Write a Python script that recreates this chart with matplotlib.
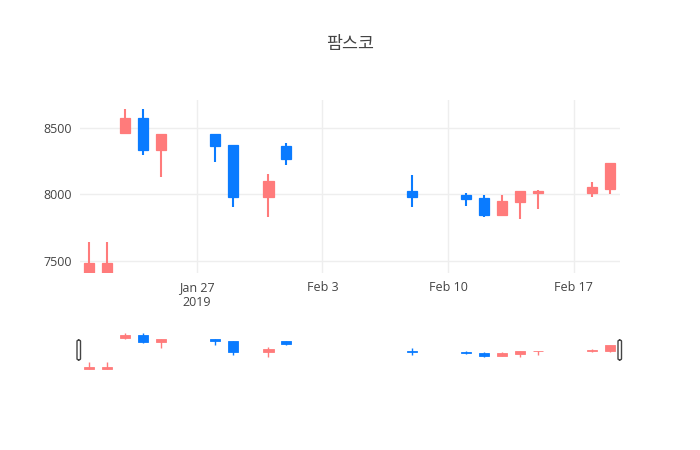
import datetime
import matplotlib
matplotlib.use('Agg')
import matplotlib.pyplot as plt
import matplotlib.dates as mdates
from matplotlib.patches import FancyBboxPatch


dates = ['2019-01-21', '2019-01-22', '2019-01-23', '2019-01-24', '2019-01-25',
         '2019-01-28', '2019-01-29', '2019-01-31', '2019-02-01', '2019-02-08',
         '2019-02-11', '2019-02-12', '2019-02-13', '2019-02-14', '2019-02-15',
         '2019-02-18', '2019-02-19']
opens = [7400, 7400, 8460, 8570, 8330, 8450, 8370, 7980, 8360, 8020,
         7990, 7970, 7840, 7940, 8010, 8010, 8040]
highs = [7640, 7640, 8640, 8640, 8450, 8450, 8370, 8150, 8380, 8140,
         8010, 7990, 7990, 8020, 8030, 8090, 8230]
lows = [7400, 7400, 8450, 8290, 8130, 8240, 7900, 7830, 8220, 7900,
        7910, 7830, 7840, 7810, 7890, 7980, 8000]
closes = [7480, 7480, 8570, 8330, 8450, 8360, 7980, 8100, 8260, 7980,
          7960, 7840, 7950, 8020, 8020, 8050, 8230]

title = '팜스코'
up_color = '#FF7B7B'
down_color = '#0A7BFF'

x = [mdates.date2num(datetime.datetime.strptime(d, '%Y-%m-%d')) for d in dates]
x0 = mdates.date2num(datetime.datetime(2019, 1, 20, 12))
x1 = mdates.date2num(datetime.datetime(2019, 2, 19, 14))
ylo, yhi = 7406, 8707


def draw_candles(ax, width, lw):
  for xi, o, h, l, c in zip(x, opens, highs, lows, closes):
    col = up_color if c >= o else down_color
    ax.vlines(xi, l, h, color=col, linewidth=lw, zorder=2)
    ax.bar(xi, abs(c - o), bottom=min(o, c), width=width, color=col,
           edgecolor=col, linewidth=lw * 0.6, zorder=3)


fig = plt.figure(figsize=(7, 4.5), dpi=100)
fig.patch.set_facecolor('white')

ax = fig.add_axes([80 / 700, 1 - 273 / 450, 540 / 700, 173 / 450])
draw_candles(ax, 0.56, 1.5)
ax.set_xlim(x0, x1)
ax.set_ylim(ylo, yhi)
ax.set_yticks([7500, 8000, 8500])
ticks = [datetime.datetime(2019, 1, 27), datetime.datetime(2019, 2, 3),
         datetime.datetime(2019, 2, 10), datetime.datetime(2019, 2, 17)]
ax.set_xticks([mdates.date2num(t) for t in ticks])
ax.set_xticklabels(['Jan 27\n2019', 'Feb 3', 'Feb 10', 'Feb 17'])
ax.grid(True, color='#eeeeee', linewidth=1, zorder=0)
ax.set_axisbelow(True)
for s in ax.spines.values():
  s.set_visible(False)
ax.tick_params(length=0, colors='#444444', labelsize=9, pad=6)
for lab in ax.get_xticklabels() + ax.get_yticklabels():
  lab.set_fontfamily(['Open Sans', 'DejaVu Sans'])

fig.text(350 / 700, 1 - 44 / 450, title, ha='center', va='center',
         fontsize=12.5, color='#444444',
         family=['Noto Sans CJK KR', 'DejaVu Sans'])

# range slider
sl = fig.add_axes([80 / 700, 1 - 371 / 450, 540 / 700, 40 / 450])
draw_candles(sl, 0.56, 1.0)
sl.set_xlim(x0, x1)
sl.set_ylim(ylo - 60, yhi)
sl.set_xticks([])
sl.set_yticks([])
for s in sl.spines.values():
  s.set_visible(False)

for hx in [77, 618]:
  handle = FancyBboxPatch((hx / 700, 1 - 360 / 450), 3.5 / 700, 20 / 450,
                          boxstyle='round,pad=0,rounding_size=0.003',
                          transform=fig.transFigure, facecolor='white',
                          edgecolor='#444444', linewidth=1)
  fig.patches.append(handle)

fig.savefig('out.png', dpi=100)
